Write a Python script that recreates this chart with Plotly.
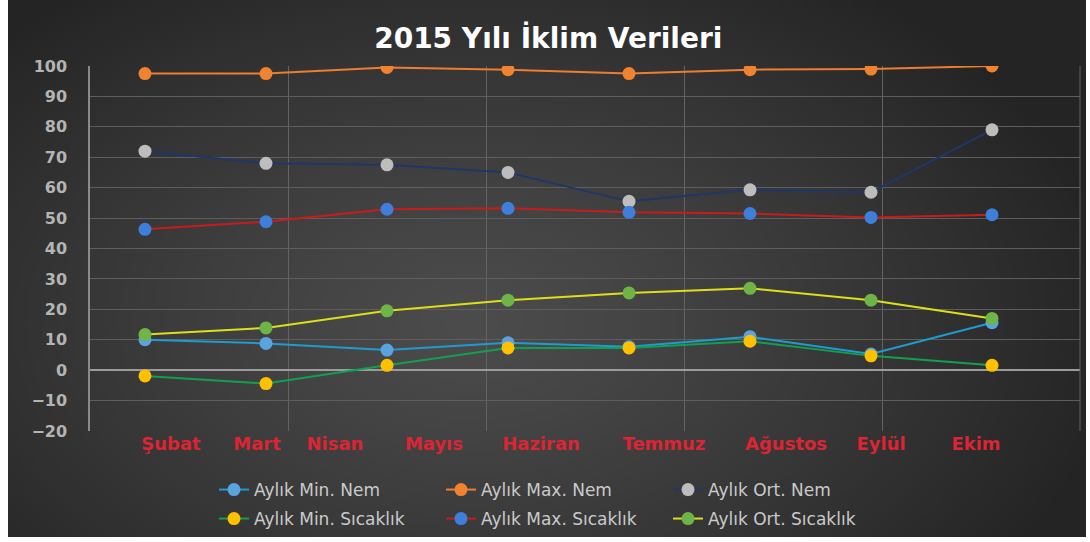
import base64, struct, zlib
import numpy as np
import plotly.graph_objects as go

# ---------------- data ----------------
point_x = [0, 1, 2, 3, 4, 5, 6, 7]
min_nem = [10.0, 8.8, 6.6, 9.0, 7.7, 11.0, 5.3, 15.6]
max_nem = [97.5, 97.5, 99.5, 98.8, 97.5, 98.8, 99.0, 100.0]
ort_nem = [72.0, 68.0, 67.5, 65.0, 55.5, 59.3, 58.5, 79.0]
min_sic = [-1.9, -4.4, 1.6, 7.3, 7.3, 9.5, 4.7, 1.6]
max_sic = [46.3, 48.8, 52.9, 53.2, 51.9, 51.5, 50.2, 51.1]
ort_sic = [11.7, 13.9, 19.5, 23.0, 25.4, 26.9, 23.0, 17.0]

month_labels = ["Şubat", "Mart", "Nisan", "Mayıs", "Haziran", "Temmuz", "Ağustos", "Eylül", "Ekim"]
month_label_pos = [0.215, 0.926, 1.570, 2.388, 3.273, 4.289, 5.298, 6.083, 6.868]

y_ticks = [-20, -10, 0, 10, 20, 30, 40, 50, 60, 70, 80, 90, 100]

series = [
    # name, values, line colour, marker colour, legend
    ("Aylık Min. Nem", min_nem, "#1f9bd0", "#5aa3e0", "legend"),
    ("Aylık Max. Nem", max_nem, "#ed7d31", "#f0832f", "legend"),
    ("Aylık Ort. Nem", ort_nem, "#1f3767", "#bdbdbd", "legend"),
    ("Aylık Min. Sıcaklık", min_sic, "#10a050", "#ffc000", "legend2"),
    ("Aylık Max. Sıcaklık", max_sic, "#c81c1c", "#3f7fdc", "legend2"),
    ("Aylık Ort. Sıcaklık", ort_sic, "#dede1a", "#6fb446", "legend2"),
]

# ---------------- background gradient (decoration) ----------------
def make_png(arr):
    h, w, _ = arr.shape
    raw = b"".join(b"\x00" + arr[r].tobytes() for r in range(h))
    def chunk(tag, data):
        c = struct.pack(">I", len(data)) + tag + data
        return c + struct.pack(">I", zlib.crc32(tag + data) & 0xFFFFFFFF)
    return (b"\x89PNG\r\n\x1a\n" + chunk(b"IHDR", struct.pack(">IIBBBBB", w, h, 8, 2, 0, 0, 0))
            + chunk(b"IDAT", zlib.compress(raw, 9)) + chunk(b"IEND", b""))

GW, GH = 270, 134
yy, xx = np.mgrid[0:GH, 0:GW]
px = xx * (1078 / GW) + 8
py = yy * (537 / GH)
d = np.sqrt(((px - 470) / 660) ** 2 + ((py - 320) / 420) ** 2)
d = np.clip(d, 0, 1) ** 1.2
val = (0x4c + (0x24 - 0x4c) * d).astype(np.uint8)
grad = np.stack([val, val, val], axis=-1)
grad_uri = "data:image/png;base64," + base64.b64encode(make_png(grad)).decode()

# ---------------- figure ----------------
fig = go.Figure()
for name, vals, lc, mc, lg in series:
    fig.add_trace(go.Scatter(
        x=point_x, y=vals, name=name, mode="lines+markers",
        line=dict(color=lc, width=2),
        marker=dict(color=mc, size=13, line=dict(width=0)),
        legend=lg,
    ))

L, R, T, B = 90, 10, 66, 111
plot_w = 1090 - L - R
plot_h = 542 - T - B
x0, x1 = -0.4545, 7.7273

legend_font = dict(family="DejaVu Sans", size=17, color="#cacaca")

fig.update_layout(
    width=1090, height=542,
    margin=dict(l=L, r=R, t=T, b=B, autoexpand=False),
    paper_bgcolor="#ffffff",
    plot_bgcolor="rgba(0,0,0,0)",
    title=dict(text="<b>2015 Yılı İklim Verileri</b>", x=0.503, xanchor="center",
               y=1 - 38 / 542, yanchor="middle",
               font=dict(family="DejaVu Sans", size=28, color="#ffffff")),
    images=[dict(source=grad_uri, xref="paper", yref="paper",
                 x=(8 - L) / plot_w, y=(431 - 0) / plot_h,
                 sizex=1078 / plot_w, sizey=537 / plot_h,
                 xanchor="left", yanchor="top", sizing="stretch", layer="below")],
    xaxis=dict(
        automargin=False,
        range=[x0, x1], showgrid=False, zeroline=False, showline=False,
        tickmode="array", tickvals=month_label_pos, ticktext=month_labels, ticks="",
        tickfont=dict(family="DejaVu Sans", size=18, color="#dc2433", weight="bold"),
        minor=dict(tickmode="linear", tick0=x0, dtick=(x1 - x0) / 5, showgrid=True,
                   gridcolor="#636363", gridwidth=1, ticks=""),
    ),
    yaxis=dict(
        automargin=False,
        range=[-20, 100], tickmode="array", tickvals=y_ticks,
        showgrid=True, gridcolor="#5e5e5e", gridwidth=1,
        zeroline=True, zerolinecolor="#9c9c9c", zerolinewidth=2,
        showline=True, linecolor="#8a8a8a", linewidth=1.5,
        ticks="", ticklabelstandoff=18,
        tickfont=dict(family="DejaVu Sans", size=16, color="#b4b4b4", weight="bold"),
    ),
    legend=dict(orientation="h", x=(214 - L) / plot_w, xanchor="left",
                y=(431 - 490) / plot_h, yanchor="middle",
                entrywidth=182, entrywidthmode="pixels",
                bgcolor="rgba(0,0,0,0)", font=legend_font),
    legend2=dict(orientation="h", x=(214 - L) / plot_w, xanchor="left",
                 y=(431 - 519) / plot_h, yanchor="middle",
                 entrywidth=182, entrywidthmode="pixels",
                 bgcolor="rgba(0,0,0,0)", font=legend_font),
    shapes=[dict(type="line", xref="paper", yref="paper", x0=1, x1=1, y0=0, y1=1,
                 line=dict(color="#636363", width=1))],
)

fig.write_html("out.html",
               config={"displayModeBar": False},
               post_script="document.body.style.margin='0px';document.body.style.padding='0px';")
